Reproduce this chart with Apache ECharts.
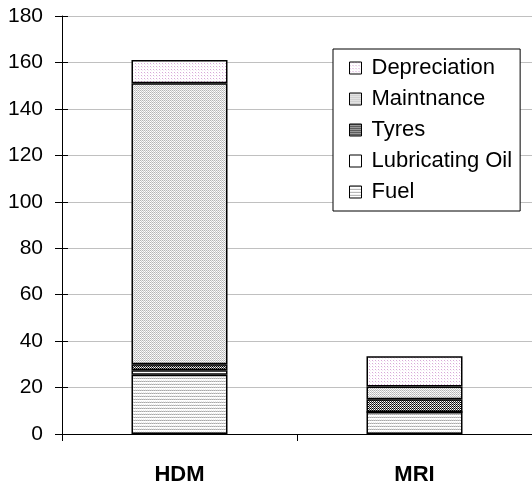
<!DOCTYPE html>
<html>
<head>
<meta charset="utf-8">
<script src="https://cdn.jsdelivr.net/npm/echarts@6/dist/echarts.min.js"></script>
<style>html,body{margin:0;padding:0;background:#fff;}#c{width:532px;height:493px;}</style>
</head>
<body>
<div id="c"></div>
<script>
const categories = ['HDM', 'MRI'];
const fuel = [25.5, 9.5];
const lubricatingOil = [2, 0];
const tyres = [2.5, 5.5];
const maintnance = [121, 5.5];
const depreciation = [10, 13];
const legendOrder = ['Depreciation', 'Maintnance', 'Tyres', 'Lubricating Oil', 'Fuel'];
const yTicks = { min: 0, max: 180, interval: 20 };

function pat(w, h, draw) {
  const c = document.createElement('canvas');
  c.width = w; c.height = h;
  const g = c.getContext('2d');
  g.fillStyle = '#fff'; g.fillRect(0, 0, w, h);
  draw(g);
  return { image: c, repeat: 'repeat' };
}
const px = (g, col, x, y) => { g.fillStyle = col; g.fillRect(x, y, 1, 1); };

const fuelPat = pat(2, 3, g => { px(g, '#a8a8a8', 0, 0); px(g, '#c8c8c8', 1, 0); px(g, '#e8e8e8', 1, 2); });
const lubePat = '#ffffff';
const tyrePat = pat(2, 2, g => { px(g, '#000', 0, 0); px(g, '#333', 1, 1); px(g, '#bbb', 1, 0); });
const maintPat = pat(2, 2, g => { px(g, '#b4b4b4', 0, 0); px(g, '#c8c8c8', 1, 1); px(g, '#eeeeee', 1, 0); });
const depPat = pat(3, 3, g => { px(g, '#d8a8d8', 0, 0); px(g, '#f4e8f4', 1, 1); });

const FONT = 'Liberation Sans, Arial, sans-serif';
function bar(name, data, color) {
  return {
    name, type: 'bar', stack: 'total', data, barWidth: 96,
    itemStyle: { color, borderColor: '#000', borderWidth: 1.5 },
    emphasis: { disabled: true }
  };
}

const chart = echarts.init(document.getElementById('c'), null, { renderer: 'canvas' });
chart.setOption({
  animation: false,
  backgroundColor: '#fff',
  grid: { left: 62, top: 16, bottom: 59, right: -6, containLabel: false },
  legend: {
    data: legendOrder, orient: 'vertical', left: 333, top: 49,
    itemWidth: 12, itemHeight: 12, itemGap: 9, icon: 'rect',
    padding: [8, 8, 8, 16], borderColor: '#000', borderWidth: 1, backgroundColor: '#fff',
    itemStyle: { borderColor: '#000', borderWidth: 1 },
    textStyle: { fontSize: 22, lineHeight: 21, fontFamily: FONT, color: '#000', padding: [0, 0, 0, 5] }
  },
  xAxis: {
    type: 'category', data: categories,
    axisLine: { lineStyle: { color: '#000', width: 1 } },
    axisTick: { show: true, length: 7, interval: 0, alignWithLabel: false, lineStyle: { color: '#000' } },
    axisLabel: { fontSize: 22, fontWeight: 'bold', fontFamily: FONT, color: '#000', margin: 30 },
    splitLine: { show: false }
  },
  yAxis: [{
    type: 'value', min: yTicks.min, max: yTicks.max, interval: yTicks.interval,
    axisLine: { show: true, lineStyle: { color: '#000', width: 1 } },
    axisTick: { show: true, length: 7, lineStyle: { color: '#000' } },
    axisLabel: { fontSize: 21, fontFamily: FONT, color: '#000', margin: 19 },
    splitLine: { show: true, lineStyle: { color: '#c0c0c0', width: 1 } }
  }, {
    type: 'value', min: yTicks.min, max: yTicks.max, interval: yTicks.interval, position: 'left',
    axisLine: { show: false },
    axisTick: { show: true, inside: true, length: 6, lineStyle: { color: '#000' } },
    axisLabel: { show: false }, splitLine: { show: false }
  }],
  series: [
    bar('Fuel', fuel, fuelPat),
    bar('Lubricating Oil', lubricatingOil, lubePat),
    bar('Tyres', tyres, tyrePat),
    bar('Maintnance', maintnance, maintPat),
    bar('Depreciation', depreciation, depPat)
  ]
});
</script>
</body>
</html>
